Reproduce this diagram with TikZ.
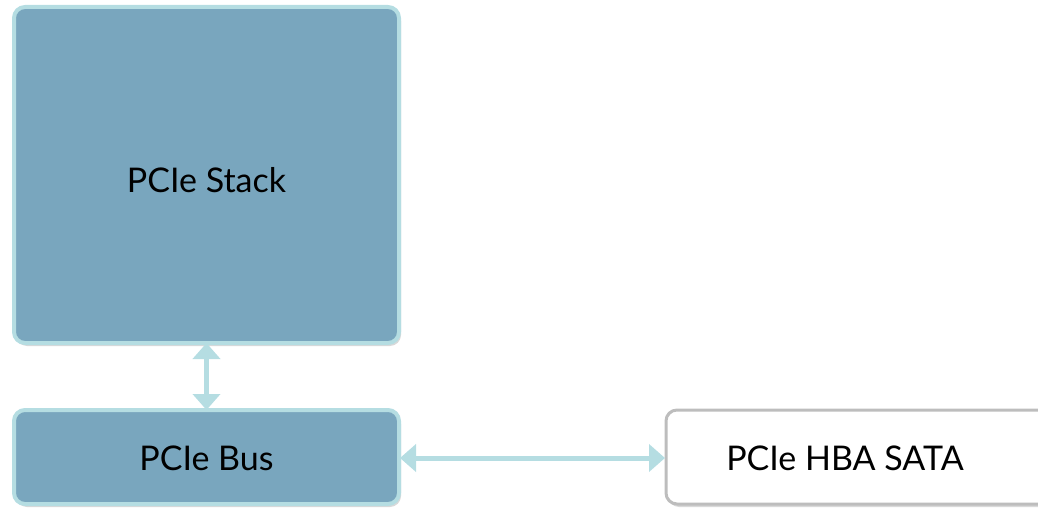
\documentclass[tikz,border=0pt]{standalone}
\usepackage{fontspec}
\setmainfont{Lato}
\usetikzlibrary{shadows,arrows.meta}
\definecolor{boxblue}{HTML}{79A6BE}
\definecolor{rimcyan}{HTML}{B5DDE2}
\definecolor{rimgray}{HTML}{BDBDBD}
\begin{document}
\begin{tikzpicture}[x=1pt,y=-1pt,
  blockbox/.style={draw=rimcyan, line width=4pt, fill=boxblue, rounded corners=11pt,
    drop shadow={shadow xshift=2pt, shadow yshift=-3pt, opacity=0.3, fill=gray}},
  plainbox/.style={draw=rimgray, line width=3pt, fill=white, rounded corners=11pt,
    drop shadow={shadow xshift=2pt, shadow yshift=-3pt, opacity=0.3, fill=gray}},
  label/.style={font=\fontsize{34}{40}\selectfont, text=black},
  link/.style={draw=rimcyan, line width=5pt,
    {Triangle[width=27pt,length=16pt]}-{Triangle[width=27pt,length=16pt]}}]
  \useasboundingbox (0,0) rectangle (1038,510);
  % blocks
  \path[blockbox] (14,7) rectangle (399,343);
  \node[label] (stack) at (206.5,180) {PCIe Stack};
  \coordinate (stackS) at (206.5,343);
  \path[blockbox] (14,410) rectangle (399,504);
  \node[label] (bus) at (206.5,458) {PCIe Bus};
  \coordinate (busN) at (206.5,410);
  \coordinate (busE) at (400,458);
  \path[plainbox] (666,410) rectangle (1050,504);
  \node[label] (hba) at (845,458) {PCIe HBA SATA};
  \coordinate (hbaW) at (665,458);
  % connectors
  \draw[link] (stackS) -- (busN);
  \draw[link] (busE) -- (hbaW);
\end{tikzpicture}
\end{document}
